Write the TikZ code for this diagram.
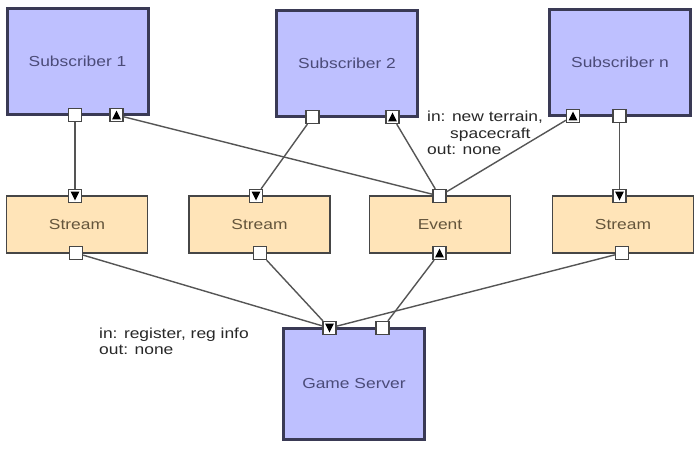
\documentclass[tikz,border=0pt]{standalone}
\usepackage{fontspec}
\setmainfont{Liberation Sans}[FakeStretch=1.2]
\definecolor{subfill}{RGB}{190,192,255}
\definecolor{subline}{RGB}{58,58,85}
\definecolor{subtext}{RGB}{75,75,120}
\definecolor{strfill}{RGB}{255,228,184}
\definecolor{strline}{RGB}{70,70,70}
\definecolor{strtext}{RGB}{100,85,60}
\definecolor{connline}{RGB}{85,85,85}
\definecolor{lbltext}{RGB}{40,40,40}
\begin{document}
\begin{tikzpicture}[x=1pt,y=-1pt,
  boxfont/.style={font=\fontsize{14.5}{17}\selectfont},
  subbox/.style={boxfont, draw=subline, line width=3pt, fill=subfill, text=subtext,
    minimum width=141pt, minimum height=106pt, inner sep=0pt},
  strbox/.style={boxfont, draw=strline, line width=1.8pt, fill=strfill, text=strtext,
    minimum width=141pt, minimum height=57pt, inner sep=0pt},
  gsbox/.style={subbox, minimum height=111pt},
  port/.style={draw=strline, line width=1.3pt, fill=white, minimum size=13pt, inner sep=0pt},
  tup/.style={port, path picture={\fill[black]
    ([xshift=2.2pt,yshift=2.2pt]path picture bounding box.south west) --
    ([xshift=-2.2pt,yshift=2.2pt]path picture bounding box.south east) --
    ([yshift=-2pt]path picture bounding box.north) -- cycle;}},
  tdown/.style={port, path picture={\fill[black]
    ([xshift=2.2pt,yshift=-2.2pt]path picture bounding box.north west) --
    ([xshift=-2.2pt,yshift=-2.2pt]path picture bounding box.north east) --
    ([yshift=2pt]path picture bounding box.south) -- cycle;}},
  conn/.style={draw=connline, line width=1.4pt},
  lbl/.style={text=lbltext, font=\fontsize{14.5}{16.5}\selectfont, align=left,
    inner sep=0pt, anchor=north west}]
\useasboundingbox (0,0) rectangle (700,450);
\fill[white] (0,0) rectangle (700,450);

% boxes
\node[subbox] (sub1) at (77.5,61.5) {Subscriber 1};
\node[subbox] (sub2) at (347,63.5) {Subscriber 2};
\node[subbox] (subn) at (620,62) {Subscriber n};
\node[strbox] (st1) at (77,224.5) {Stream};
\node[strbox] (st2) at (259.5,224.5) {Stream};
\node[strbox] (ev) at (440,224.5) {Event};
\node[strbox] (st3) at (623,224.5) {Stream};
\node[gsbox] (gs) at (354,384) {Game Server};

% ports
\node[port] (s1o) at (75,115) {};
\node[tup] (s1e) at (116.5,115) {};
\node[port] (s2o) at (312.5,117) {};
\node[tup] (s2e) at (392.5,117) {};
\node[tup] (sne) at (573,116) {};
\node[port] (sno) at (619.5,116) {};
\node[tdown] (st1i) at (75,196) {};
\node[port] (st1o) at (76,253) {};
\node[tdown] (st2i) at (256,196) {};
\node[port] (st2o) at (260,253) {};
\node[port] (evi) at (439.5,196) {};
\node[tup] (evo) at (439.5,253) {};
\node[tdown] (st3i) at (619.5,196) {};
\node[port] (st3o) at (622,253) {};
\node[tdown] (gsi) at (329.5,328) {};
\node[port] (gse) at (382.5,328) {};

% connectors
\draw[conn] (s1o) -- (st1i);
\draw[conn] (s1e) -- (evi);
\draw[conn] (s2o) -- (st2i);
\draw[conn] (s2e) -- (evi);
\draw[conn] (sne) -- (evi);
\draw[conn] (sno) -- (st3i);
\draw[conn] (st1o) -- (gsi);
\draw[conn] (st2o) -- (gsi);
\draw[conn] (st3o) -- (gsi);
\draw[conn] (evo) -- (gse);

% labels
\node[lbl] (lblev) at (427,111) {in: new terrain,\\\hspace*{23pt}spacecraft\\out: none};
\node[lbl] (lblgs) at (99,327.5) {in: register, reg info\\out: none};
\end{tikzpicture}
\end{document}
